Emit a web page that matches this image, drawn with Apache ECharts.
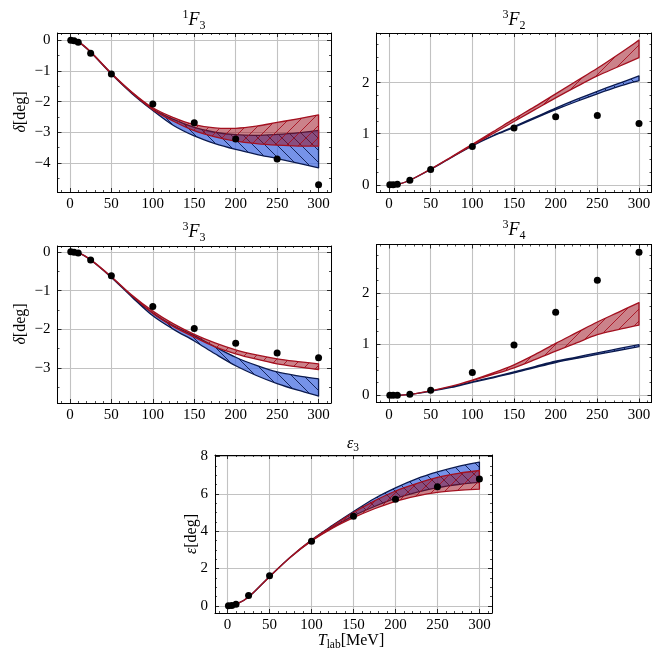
<!DOCTYPE html>
<html><head><meta charset="utf-8">
<script src="https://cdn.jsdelivr.net/npm/echarts@6/dist/echarts.min.js"></script>
<style>html,body{margin:0;padding:0;background:#fff}#c{width:664px;height:664px}</style>
</head><body><div id="c"></div>
<script>
// ---------------- data ----------------
const scatterT = [1, 5, 10, 25, 50, 100, 150, 200, 250, 300];
const bandT = [0, 10, 25, 50, 75, 100, 125, 150, 175, 200, 225, 250, 275, 300];

// 1F3
const pts1F3 = [0.00, -0.01, -0.06, -0.42, -1.10, -2.08, -2.69, -3.22, -3.87, -4.71];
const blueLo1F3 = [0, -0.05, -0.39, -1.10, -1.74, -2.29, -2.78, -3.12, -3.37, -3.56, -3.72, -3.86, -4.01, -4.16];
const blueHi1F3 = [0, -0.05, -0.38, -1.08, -1.71, -2.24, -2.58, -2.84, -3.00, -3.08, -3.10, -3.07, -3.02, -2.94];
const redLo1F3 = [0, -0.05, -0.38, -1.09, -1.72, -2.26, -2.64, -2.95, -3.15, -3.29, -3.37, -3.42, -3.45, -3.45];
const redHi1F3 = [0, -0.04, -0.37, -1.07, -1.69, -2.20, -2.52, -2.75, -2.86, -2.87, -2.80, -2.68, -2.56, -2.43];

// 3F2
const pts3F2 = [0.00, 0.002, 0.01, 0.09, 0.30, 0.75, 1.11, 1.33, 1.355, 1.20];
const blueLo3F2 = [0, 0.005, 0.09, 0.30, 0.535, 0.76, 0.955, 1.125, 1.30, 1.47, 1.63, 1.78, 1.92, 2.04];
const blueHi3F2 = [0, 0.005, 0.09, 0.305, 0.54, 0.77, 0.965, 1.14, 1.32, 1.50, 1.67, 1.83, 1.98, 2.13];
const redLo3F2 = [0, 0.005, 0.09, 0.305, 0.54, 0.775, 1.005, 1.24, 1.47, 1.70, 1.92, 2.13, 2.31, 2.49];
const redHi3F2 = [0, 0.005, 0.09, 0.31, 0.55, 0.795, 1.04, 1.29, 1.53, 1.78, 2.03, 2.28, 2.55, 2.83];

// 3F3
const pts3F3 = [0.00, -0.01, -0.03, -0.21, -0.62, -1.41, -1.98, -2.36, -2.61, -2.73];
const blueLo3F3 = [0, -0.02, -0.21, -0.66, -1.17, -1.65, -2.00, -2.30, -2.63, -2.94, -3.19, -3.40, -3.57, -3.72];
const blueHi3F3 = [0, -0.02, -0.21, -0.65, -1.15, -1.58, -1.91, -2.16, -2.45, -2.72, -2.93, -3.10, -3.20, -3.28];
const redLo3F3 = [0, -0.02, -0.21, -0.65, -1.14, -1.59, -1.93, -2.20, -2.45, -2.63, -2.77, -2.89, -2.97, -3.04];
const redHi3F3 = [0, -0.02, -0.20, -0.64, -1.12, -1.53, -1.86, -2.13, -2.35, -2.53, -2.66, -2.76, -2.83, -2.89];

// 3F4
const pts3F4 = [0.00, 0.00, 0.00, 0.02, 0.10, 0.45, 0.99, 1.63, 2.26, 2.81];
const blueLo3F4 = [0, 0.0, 0.02, 0.08, 0.155, 0.255, 0.345, 0.44, 0.545, 0.645, 0.725, 0.805, 0.88, 0.955];
const blueHi3F4 = [0, 0.0, 0.02, 0.085, 0.165, 0.265, 0.36, 0.46, 0.565, 0.67, 0.75, 0.835, 0.915, 0.995];
const redLo3F4 = [0, 0.0, 0.02, 0.09, 0.18, 0.29, 0.41, 0.54, 0.70, 0.87, 1.03, 1.19, 1.29, 1.38];
const redHi3F4 = [0, 0.0, 0.02, 0.09, 0.18, 0.30, 0.44, 0.60, 0.80, 1.02, 1.23, 1.44, 1.63, 1.82];

// epsilon3
const ptsE3 = [0.00, 0.02, 0.09, 0.55, 1.61, 3.46, 4.80, 5.71, 6.38, 6.80];
const blueLoE3 = [0, 0.08, 0.47, 1.56, 2.61, 3.49, 4.20, 4.82, 5.32, 5.75, 6.08, 6.33, 6.50, 6.62];
const blueHiE3 = [0, 0.08, 0.47, 1.57, 2.62, 3.53, 4.31, 5.05, 5.75, 6.32, 6.80, 7.17, 7.47, 7.70];
const redLoE3 = [0, 0.08, 0.47, 1.56, 2.60, 3.47, 4.16, 4.72, 5.20, 5.60, 5.88, 6.08, 6.19, 6.25];
const redHiE3 = [0, 0.08, 0.47, 1.57, 2.62, 3.52, 4.28, 5.00, 5.62, 6.15, 6.55, 6.88, 7.10, 7.25];

// ---------------- styling ----------------
const FONT = "'Liberation Serif', 'DejaVu Serif', serif";

function hatch(fill, stroke, dir) {
  const s = 12;
  const c = document.createElement('canvas');
  c.width = s; c.height = s;
  const ctx = c.getContext('2d');
  ctx.fillStyle = fill;
  ctx.fillRect(0, 0, s, s);
  ctx.strokeStyle = stroke;
  ctx.lineWidth = 0.9;
  ctx.beginPath();
  for (const k of [-s, 0, s]) {
    if (dir === '/') { ctx.moveTo(k, s); ctx.lineTo(k + s, 0); }
    else { ctx.moveTo(k, 0); ctx.lineTo(k + s, s); }
  }
  ctx.stroke();
  return { image: c, repeat: 'repeat' };
}
const RED_EDGE = '#a3101f';
const BLUE_EDGE = '#0b1a4e';
const redPat = hatch('rgba(156,16,30,0.52)', '#a8101f', '/');
const bluePat = hatch('rgba(65,105,225,0.72)', '#0b1a4e', '\\');

const panels = [
  { box: [57.5, 33, 273.5, 159], y: [-4.95, 0.24], step: 1, split: 5, minor: 2, pts: pts1F3, blue: [blueLo1F3, blueHi1F3], red: [redLo1F3, redHi1F3] },
  { box: [376.5, 33, 275, 159], y: [-0.14, 2.97], step: 1, split: 3, minor: 4, pts: pts3F2, blue: [blueLo3F2, blueHi3F2], red: [redLo3F2, redHi3F2] },
  { box: [57.5, 246, 273.5, 157], y: [-3.9, 0.15], step: 1, split: 5, minor: 2, pts: pts3F3, blue: [blueLo3F3, blueHi3F3], red: [redLo3F3, redHi3F3] },
  { box: [376.5, 244.5, 275, 158], y: [-0.14, 2.96], step: 1, split: 3, minor: 4, pts: pts3F4, blue: [blueLo3F4, blueHi3F4], red: [redLo3F4, redHi3F4] },
  { box: [215, 455, 277, 158], y: [-0.385, 8.08], step: 2, split: 5, minor: 4, pts: ptsE3, blue: [blueLoE3, blueHiE3], red: [redLoE3, redHiE3] }
];

function fmt(step) {
  return function (v) {
    const r = Math.round(v / step) * step;
    if (Math.abs(v - r) > 1e-6) return '';
    return r < 0 ? '\u2212' + Math.abs(r) : String(Math.abs(r) < 1e-9 ? 0 : r);
  };
}

function smoothPath(pts, first) {
  let s = (first ? 'M' : 'L') + pts[0][0] + ' ' + pts[0][1];
  for (let i = 0; i < pts.length - 1; i++) {
    const p0 = pts[Math.max(i - 1, 0)], p1 = pts[i], p2 = pts[i + 1], p3 = pts[Math.min(i + 2, pts.length - 1)];
    const c1x = p1[0] + (p2[0] - p0[0]) / 6, c1y = p1[1] + (p2[1] - p0[1]) / 6;
    const c2x = p2[0] - (p3[0] - p1[0]) / 6, c2y = p2[1] - (p3[1] - p1[1]) / 6;
    s += ' C' + c1x + ' ' + c1y + ' ' + c2x + ' ' + c2y + ' ' + p2[0] + ' ' + p2[1];
  }
  return s;
}

function bandSeries(gi, lo, hi, pat, edge) {
  return {
    type: 'custom', xAxisIndex: 2 * gi, yAxisIndex: 2 * gi, silent: true, z: 2,
    data: [[0, 0]],
    renderItem: function (params, api) {
      const up = bandT.map((t, k) => api.coord([t, hi[k]]));
      const dn = bandT.map((t, k) => api.coord([t, lo[k]])).reverse();
      const d = smoothPath(up, true) + ' ' + smoothPath(dn, false) + ' Z';
      return { type: 'path', shape: { pathData: d }, style: { fill: pat, stroke: edge, lineWidth: 1.3, lineJoin: 'round' } };
    }
  };
}

const grid = [], xAxis = [], yAxis = [], series = [];
const tickBase = { show: true, inside: true, length: 4, lineStyle: { color: '#000', width: 0.8 } };
const lineBase = { show: true, onZero: false, lineStyle: { color: '#000', width: 1 } };
const LBL = 15;
panels.forEach((p, i) => {
  grid.push({ left: p.box[0], top: p.box[1], width: p.box[2], height: p.box[3], show: false });
  const xCommon = { type: 'value', gridIndex: i, min: -15, max: 315, splitNumber: 5, axisLine: lineBase, axisTick: tickBase,
    minorTick: { show: true, splitNumber: 5, length: 2, lineStyle: { color: '#000', width: 0.7 } } };
  xAxis.push(Object.assign({}, xCommon, { position: 'bottom',
    splitLine: { show: true, lineStyle: { color: '#c2c2c2', width: 1.1 } },
    axisLabel: { show: true, margin: 5, color: '#000', fontFamily: FONT, fontSize: LBL, formatter: fmt(50) } }));
  xAxis.push(Object.assign({}, xCommon, { position: 'top', splitLine: { show: false }, axisLabel: { show: false } }));
  const yCommon = { type: 'value', gridIndex: i, min: p.y[0], max: p.y[1], splitNumber: p.split, axisLine: lineBase, axisTick: tickBase,
    minorTick: { show: true, splitNumber: p.minor, length: 2, lineStyle: { color: '#000', width: 0.7 } } };
  yAxis.push(Object.assign({}, yCommon, { position: 'left',
    splitLine: { show: true, lineStyle: { color: '#c2c2c2', width: 1.1 } },
    axisLabel: { show: true, margin: 7, color: '#000', fontFamily: FONT, fontSize: LBL, formatter: fmt(p.step) } }));
  yAxis.push(Object.assign({}, yCommon, { position: 'right', splitLine: { show: false }, axisLabel: { show: false } }));

  series.push(bandSeries(i, p.blue[0], p.blue[1], bluePat, BLUE_EDGE));
  series.push(bandSeries(i, p.red[0], p.red[1], redPat, RED_EDGE));
  series.push({ type: 'scatter', xAxisIndex: 2 * i, yAxisIndex: 2 * i, z: 5, symbolSize: 7, silent: true,
    itemStyle: { color: '#000', opacity: 1 }, data: scatterT.map((t, k) => [t, p.pts[k]]) });
});

const titleRich = {
  sup: { fontFamily: FONT, fontSize: 12, lineHeight: 12, verticalAlign: 'top', color: '#000' },
  F: { fontFamily: FONT, fontSize: 18, lineHeight: 23, fontStyle: 'italic', color: '#000' },
  sub: { fontFamily: FONT, fontSize: 12, lineHeight: 12, verticalAlign: 'bottom', color: '#000' },
  e: { fontFamily: FONT, fontSize: 16, lineHeight: 20, fontStyle: 'italic', color: '#000' },
  i: { fontFamily: FONT, fontSize: 16, lineHeight: 20, fontStyle: 'italic', color: '#000' },
  n: { fontFamily: FONT, fontSize: 16, lineHeight: 20, color: '#000' },
  s2: { fontFamily: FONT, fontSize: 11.5, lineHeight: 11, verticalAlign: 'bottom', color: '#000' }
};
function txt(x, y, text, rot) {
  return { type: 'text', x: x, y: y, rotation: rot || 0, silent: true, z: 10,
    style: { text: text, align: 'center', verticalAlign: 'middle', rich: titleRich, fill: '#000' } };
}
const graphic = [
  txt(194, 20, '{sup|1}{F|F}{sub|3}'),
  txt(514, 20, '{sup|3}{F|F}{sub|2}'),
  txt(194, 232, '{sup|3}{F|F}{sub|3}'),
  txt(514, 230, '{sup|3}{F|F}{sub|4}'),
  txt(353, 444, '{e|\u03B5}{s2|3}'),
  txt(21, 112, '{i|\u03B4}{n|[deg]}', Math.PI / 2),
  txt(21, 324, '{i|\u03B4}{n|[deg]}', Math.PI / 2),
  txt(192, 534, '{i|\u03B5}{n|[deg]}', Math.PI / 2),
  txt(351, 641, '{i|T}{s2|lab}{n|[MeV]}')
];

const chart = echarts.init(document.getElementById('c'), null, { renderer: 'canvas' });
chart.setOption({ animation: false, backgroundColor: '#fff', grid, xAxis, yAxis, series, graphic });
</script>
</body></html>
